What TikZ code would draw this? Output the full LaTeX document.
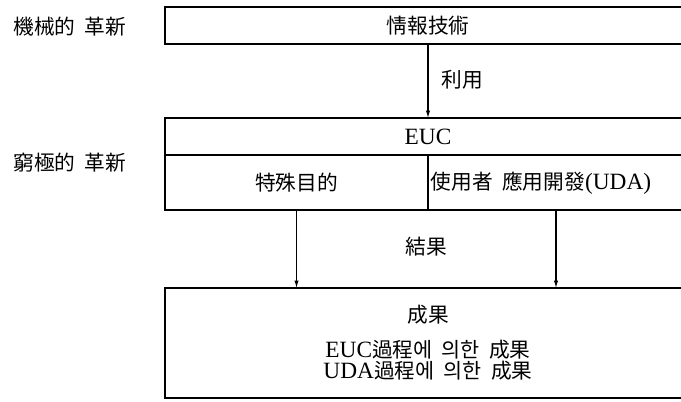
\documentclass[tikz,border=0pt]{standalone}
\usepackage{fontspec}
\setmainfont{Liberation Serif}
\newfontfamily\cjk[Scale=0.97]{Noto Sans CJK KR}
\newcommand\mycj[1]{{\fontsize{16}{19}\selectfont\cjk #1}}
\newcommand\gp{\hspace{0.45em}}
\usetikzlibrary{arrows.meta}
\begin{document}
\begin{tikzpicture}[x=0.75pt,y=-0.75pt,
  cell/.style={inner sep=0pt,outer sep=0pt},
  txt/.style={inner sep=0pt,outer sep=0pt},
  lm/.style={font=\fontsize{17.5}{20}\selectfont},
  cj/.style={font=\fontsize{16}{19}\selectfont\cjk},
  boxline/.style={line width=1.3pt,line join=miter},
  arr/.style={line width=0.8pt,-{Latex[length=5.5pt,width=3.2pt]}}]
\useasboundingbox (0,0) rectangle (681,401);

% left labels
\node[txt,cj] (mech) at (70,27) {機械的\gp 革新};
\node[txt,cj] (ult) at (70,163) {窮極的\gp 革新};

% box 1
\node[cell,cj,minimum width=394.5pt,minimum height=27.75pt] (tech) at (428,25.5) {情報技術};
\draw[boxline] (tech.north east) -- (tech.north west) -- (tech.south west) -- (tech.south east);

% box 2
\node[cell,lm,minimum width=394.5pt,minimum height=27.75pt] (euc) at (428,136.5) {EUC};
\node[cell,cj,minimum width=197.25pt,minimum height=41.25pt] (spec) at (296.5,182.5) {特殊目的};
\node[cell,minimum width=192pt,minimum height=41.25pt] (uda) at (556,182.5) {};
\node[txt,lm] (udatext) at (541,183) {\mycj{使用者\gp 應用開發}(UDA)};
\draw[boxline] (euc.north east) -- (euc.north west) -- (spec.south west) -- (uda.south east);
\draw[boxline] (euc.south west) -- (uda.north east);
\draw[boxline] (spec.north east) -- (spec.south east);

% box 3
\node[cell,minimum width=394.5pt,minimum height=82.5pt] (res) at (428,343) {};
\draw[boxline] (res.north east) -- (res.north west) -- (res.south west) -- (res.south east);
\node[txt,cj] (r1) at (428,315) {成果};
\node[txt,lm] (r2) at (428,350) {EUC\mycj{過程에\gp 의한\gp 成果}};
\node[txt,lm] (r3) at (428,371) {UDA\mycj{過程에\gp 의한\gp 成果}};

% connectors
\draw[arr] (tech.south) -- (euc.north);
\node[txt,cj] (use) at (462,80) {利用};
\draw[arr] (spec.south) -- (spec.south |- res.north);
\draw[arr] (uda.south) -- (uda.south |- res.north);
\node[txt,cj] (outc) at (426,247) {結果};
\end{tikzpicture}
\end{document}
